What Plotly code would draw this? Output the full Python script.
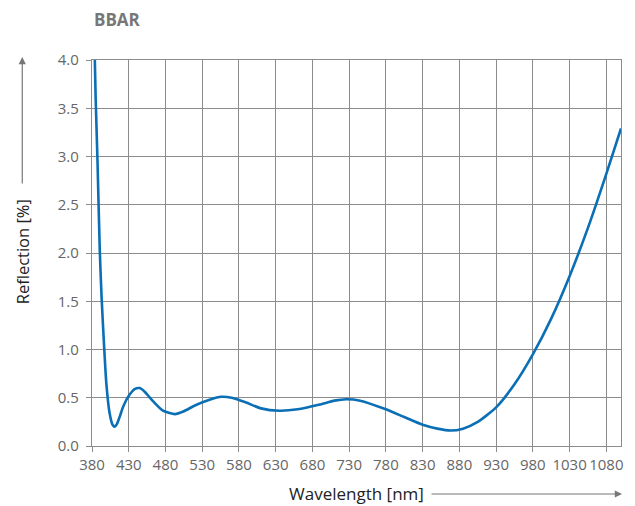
import plotly.graph_objects as go

# Data
wavelength_nm = [383, 385, 387.5, 390.5, 393, 396, 399.5, 404, 408, 411, 414, 418, 422.5, 431,
                 438, 445, 452, 460, 476, 493, 505, 520, 540, 556, 570, 590, 610, 635, 660,
                 690, 710, 726, 745, 780, 805, 830, 850, 868, 885, 905, 930, 955, 980, 1005,
                 1030, 1055, 1080, 1100]
reflection_pct = [4.3, 3.6, 2.95, 2.05, 1.55, 1.1, 0.65, 0.34, 0.22, 0.20, 0.23, 0.31, 0.41, 0.53,
                  0.59, 0.60, 0.56, 0.49, 0.37, 0.33, 0.36, 0.42, 0.48, 0.51, 0.50, 0.45, 0.39,
                  0.365, 0.38, 0.43, 0.47, 0.485, 0.47, 0.38, 0.30, 0.22, 0.18, 0.16, 0.18, 0.25,
                  0.40, 0.64, 0.95, 1.32, 1.76, 2.26, 2.82, 3.29]

x_ticks = [380, 430, 480, 530, 580, 630, 680, 730, 780, 830, 880, 930, 980, 1030, 1080]
y_ticks = [0.0, 0.5, 1.0, 1.5, 2.0, 2.5, 3.0, 3.5, 4.0]

FONT = "Open Sans"
GRID = "#8c8c8c"
TXT = "#666666"
PW, PH, PL, PB = 531, 386, 92, 446  # plot width/height, left px, bottom px (window coords)


def px(xp):
    return (xp - PL) / PW


def py(yp):
    return (PB - yp) / PH


fig = go.Figure()
fig.add_trace(go.Scatter(
    x=wavelength_nm, y=reflection_pct, mode="lines",
    line=dict(color="#0a6fb5", width=2.6, shape="spline", smoothing=0.6),
    hoverinfo="skip", showlegend=False, cliponaxis=True,
))

fig.update_layout(
    width=627, height=498,
    margin=dict(l=84, r=12, t=52, b=60),
    paper_bgcolor="white", plot_bgcolor="white",
    font=dict(family=FONT, color=TXT, size=15),
    xaxis=dict(
        range=[380, 1100], tickvals=x_ticks, ticktext=[str(v) for v in x_ticks],
        showgrid=True, gridcolor=GRID, gridwidth=1.3,
        showline=True, linecolor=GRID, linewidth=1.3, mirror=True,
        ticks="outside", ticklen=5, tickwidth=1.3, tickcolor=GRID,
        zeroline=False, tickfont=dict(size=15, color=TXT),
    ),
    yaxis=dict(
        range=[0, 4.0], tickvals=y_ticks, ticktext=[f"{v:.1f}" for v in y_ticks],
        showgrid=True, gridcolor=GRID, gridwidth=1.3,
        showline=True, linecolor=GRID, linewidth=1.3, mirror=True,
        ticks="outside", ticklen=5, tickwidth=1.3, tickcolor=GRID,
        zeroline=False, tickfont=dict(size=15, color=TXT), ticklabelstandoff=4,
    ),
    annotations=[
        dict(text="<b>BBAR</b>", xref="paper", yref="paper", x=px(92), y=py(19),
             xanchor="left", yanchor="middle", showarrow=False,
             font=dict(size=17, color="#777777", family=FONT)),
        dict(text="Reflection [%]", xref="paper", yref="paper",
             x=px(22), y=py(252), textangle=-90,
             xanchor="center", yanchor="middle", showarrow=False,
             font=dict(size=16.5, color="#222222", family=FONT)),
        dict(text="Wavelength [nm]", xref="paper", yref="paper",
             x=px(357), y=py(493),
             xanchor="center", yanchor="middle", showarrow=False,
             font=dict(size=17, color="#222222", family=FONT)),
        # y arrow
        dict(xref="paper", yref="paper", x=px(22), y=py(57),
             axref="pixel", ayref="pixel", ax=0, ay=128,
             showarrow=True, arrowhead=2, arrowsize=1.2, arrowwidth=1.2,
             arrowcolor="#777777", text=""),
        # x arrow
        dict(xref="paper", yref="paper", x=px(624), y=py(494),
             axref="pixel", ayref="pixel", ax=-192, ay=0,
             showarrow=True, arrowhead=2, arrowsize=1.2, arrowwidth=1.2,
             arrowcolor="#777777", text=""),
    ],
)

fig.write_html("out.html")
